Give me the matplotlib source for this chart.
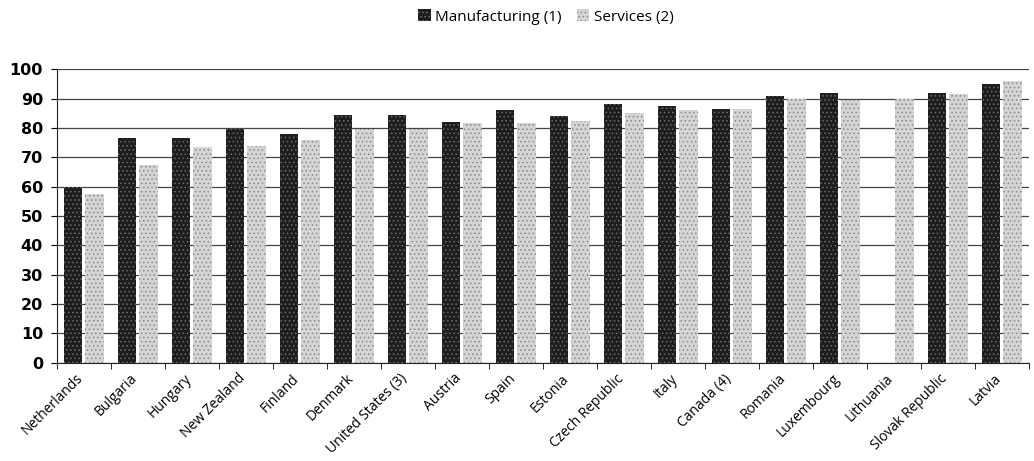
import numpy as np
import matplotlib
matplotlib.use("Agg")
import matplotlib.pyplot as plt
import matplotlib.transforms as mtransforms

countries = ["Netherlands", "Bulgaria", "Hungary", "New Zealand", "Finland",
             "Denmark", "United States (3)", "Austria", "Spain", "Estonia",
             "Czech Republic", "Italy", "Canada (4)", "Romania", "Luxembourg",
             "Lithuania", "Slovak Republic", "Latvia"]
manufacturing = [60, 76.7, 76.4, 79.5, 78, 84.5, 84.5, 82, 86, 84,
                 88, 87.5, 86.5, 91, 92, np.nan, 92, 95]
services = [57.5, 67.5, 73.5, 74, 76, 79.5, 79.5, 81.5, 81.5, 82.5,
            85, 86, 86.5, 90, 89.5, 90, 91.5, 96]

plt.rcParams["hatch.linewidth"] = 0.6

fig = plt.figure(figsize=(10.34, 4.61), dpi=100)
ax = fig.add_axes([0.055, 0.213, 0.94, 0.637])

x = np.arange(len(countries))
w = 0.34
b1 = ax.bar(x - 0.2, manufacturing, w, color="#1e1e1e", edgecolor="#6a6a6a",
            hatch="....", linewidth=0, label="Manufacturing (1)", zorder=3)
b2 = ax.bar(x + 0.2, services, w, color="#d4d4d4", edgecolor="#8a8a8a",
            hatch="....", linewidth=0, label="Services (2)", zorder=3)

ax.set_xlim(-0.5, len(countries) - 0.5)
ax.set_ylim(0, 100)
ax.set_yticks(range(0, 101, 10))
ax.yaxis.grid(True, color="#444444", linewidth=0.9, zorder=0)
ax.set_axisbelow(True)

for s in ["top", "right"]:
    ax.spines[s].set_visible(False)
ax.spines["left"].set_color("#222222")
ax.spines["bottom"].set_color("#222222")

# ticks sit between the country groups
ax.set_xticks(x)
ax.set_xticks(np.arange(-0.5, len(countries), 1), minor=True)
ax.tick_params(axis="x", which="major", length=0, pad=6)
ax.tick_params(axis="x", which="minor", length=4, direction="out")
ax.set_xticklabels(countries, rotation=45, ha="right", rotation_mode="anchor",
                   fontsize=10, family="Open Sans")
shift = mtransforms.ScaledTranslation(-8 / 100, 0, fig.dpi_scale_trans)
for t in ax.get_xticklabels():
    t.set_transform(t.get_transform() + shift)

ax.tick_params(axis="y", length=4, direction="out", labelsize=11.5, pad=6)
for t in ax.get_yticklabels():
    t.set_fontweight("bold")

fig.legend(handles=[b1, b2], loc="center", bbox_to_anchor=(0.528, 0.963),
           ncol=2, frameon=False, handlelength=0.8,
           handleheight=0.8, columnspacing=1.0, handletextpad=0.3,
           prop={"family": "Open Sans", "size": 11})

fig.savefig("out.png", dpi=100)
